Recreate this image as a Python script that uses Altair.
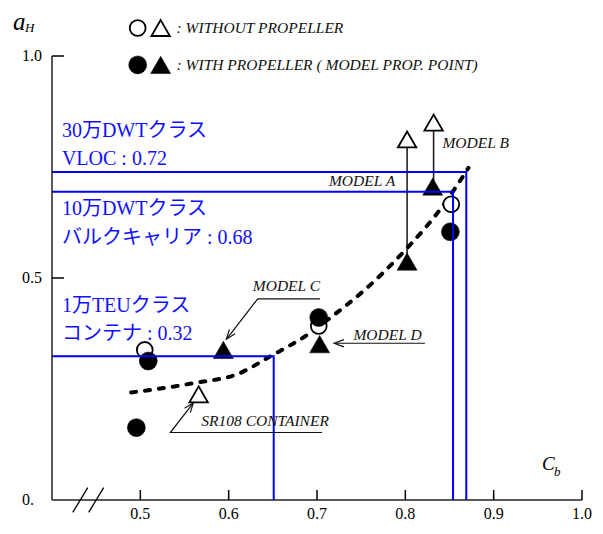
import math
import pandas as pd
import altair as alt

# ---------------- data ----------------
open_circle_x = [0.505, 0.702, 0.852]
open_circle_y = [0.338, 0.392, 0.666]
filled_circle_x = [0.509, 0.4955, 0.702, 0.851]
filled_circle_y = [0.313, 0.163, 0.411, 0.604]
open_tri_x = [0.566, 0.802, 0.832]
open_tri_y = [0.238, 0.812, 0.850]
filled_tri_x = [0.594, 0.703, 0.802, 0.831]
filled_tri_y = [0.338, 0.351, 0.537, 0.706]

# vertical connectors (MODEL A, MODEL B)
conn_x = [0.802, 0.832]
conn_y_top = [0.812, 0.850]
conn_y_bot = [0.537, 0.706]

# dashed trend curve
curve_x = [0.4896, 0.5624, 0.6105, 0.6475, 0.692, 0.7147, 0.7527, 0.8009, 0.8423, 0.8715]
curve_y = [0.242, 0.264, 0.284, 0.324, 0.376, 0.410, 0.471, 0.565, 0.662, 0.748]

# blue reference lines
blue_y = [0.739, 0.694, 0.324]
blue_x = [0.869, 0.854, 0.651]

blue_text = ["30万DWTクラス", "VLOC : 0.72", "10万DWTクラス",
             "バルクキャリア : 0.68", "1万TEUクラス", "コンテナ : 0.32"]
blue_text_y = [0.831, 0.767, 0.655, 0.591, 0.437, 0.373]
blue_text_x = [0.4112] * 6

model_text = ["MODEL  A", "MODEL  B", "MODEL  C", "MODEL  D", "SR108 CONTAINER"]
model_x = [0.7135, 0.842, 0.6273, 0.7412, 0.569]
model_y = [0.707, 0.793, 0.471, 0.360, 0.167]

arrow_C_x = [0.7035, 0.6329, 0.5974]
arrow_C_y = [0.453, 0.453, 0.362]
arrow_D_x = [0.8222, 0.7195]
arrow_D_y = [0.353, 0.353]
arrow_S_x = [0.7057, 0.534, 0.560]
arrow_S_y = [0.152, 0.152, 0.219]

legend_y = [1.063, 0.980]
legend_circle_x = [0.497, 0.497]
legend_tri_x = [0.523, 0.523]
legend_text_x = [0.541, 0.541]
legend_text = [": WITHOUT PROPELLER", ": WITH PROPELLER ( MODEL PROP. POINT)"]

x_tick_values = [0.5, 0.6, 0.7, 0.8, 0.9, 1.0]
x_tick_labels = ["0.5", "0.6", "0.7", "0.8", "0.9", "1.0"]
y_tick_values = [0.0, 0.5, 1.0]
y_tick_labels = ["0.", "0.5", "1.0"]
y_inner_ticks = [0.5, 1.0]
break_x = [0.432, 0.450]

W, H = 530, 444
XMIN, XMAX, YMIN, YMAX = 0.4, 1.0, 0.0, 1.0
SERIF = "Liberation Serif, 'Noto Sans CJK JP', serif"

xs = alt.Scale(domain=[XMIN, XMAX], nice=False, zero=False)
ys = alt.Scale(domain=[YMIN, YMAX], nice=False, zero=False)


def X(f="x"):
    return alt.X(f"{f}:Q", scale=xs, axis=None)


def Y(f="y"):
    return alt.Y(f"{f}:Q", scale=ys, axis=None)


# ---------------- axes drawn as marks ----------------
axis_df = pd.DataFrame({"x": [XMIN, XMIN], "y": [YMIN, YMIN],
                        "x2": [XMAX, XMIN], "y2": [YMIN, YMAX],
                        "c": ["x", "y"]})
axis_lines = alt.Chart(axis_df).mark_rule(strokeWidth=1.5, color="#222222").encode(
    x=X(), y=Y(), x2="x2:Q", y2="y2:Q")

xlab = alt.Chart(pd.DataFrame({"x": x_tick_values, "y": [YMIN] * 6, "t": x_tick_labels})).mark_text(
    font="Liberation Serif", fontSize=16, color="black", align="center", baseline="top", dy=6).encode(
    x=X(), y=Y(), text="t:N")
ylab = alt.Chart(pd.DataFrame({"x": [XMIN] * 3, "y": y_tick_values, "t": y_tick_labels})).mark_text(
    font="Liberation Serif", fontSize=16, color="black", align="left", baseline="middle", dx=-30).encode(
    x=X(), y=Y(), text="t:N")

# ---------------- blue lines ----------------
rows = []
for i, (bx, by) in enumerate(zip(blue_x, blue_y)):
    rows += [dict(g=i, o=0, x=XMIN, y=by), dict(g=i, o=1, x=bx, y=by), dict(g=i, o=2, x=bx, y=0.0)]
blue_df = pd.DataFrame(rows)

blue = alt.Chart(blue_df).mark_line(color="#0000ff", strokeWidth=2).encode(
    x=X(), y=Y(), detail="g:N", order="o:Q")

# ---------------- inward ticks ----------------
xt = alt.Chart(pd.DataFrame({"x": x_tick_values})).mark_rule(color="black", strokeWidth=1.5).encode(
    x=X(), y=alt.value(H), y2=alt.value(H - 10))
yt = alt.Chart(pd.DataFrame({"y": y_inner_ticks})).mark_rule(color="black", strokeWidth=1.5).encode(
    y=Y(), x=alt.value(0), x2=alt.value(12))

# axis break
brk_df = pd.DataFrame({"x": [b - 0.0085 for b in break_x], "x2": [b + 0.0085 for b in break_x],
                       "y": [-0.028] * 2, "y2": [0.028] * 2})
brk = alt.Chart(brk_df).mark_rule(color="black", strokeWidth=1.3).encode(
    x=X(), x2="x2:Q", y=Y(), y2="y2:Q")

# ---------------- connectors, curve ----------------
conn = alt.Chart(pd.DataFrame({"x": conn_x, "y": conn_y_top, "y2": conn_y_bot})).mark_rule(
    color="#222222", strokeWidth=1.6).encode(x=X(), y=Y(), y2="y2:Q")

curve = alt.Chart(pd.DataFrame({"x": curve_x, "y": curve_y, "o": range(len(curve_x))})).mark_line(
    color="black", strokeWidth=4, strokeDash=[5, 9], strokeCap="round", interpolate="monotone").encode(
    x=X(), y=Y(), order="o:Q")


# ---------------- points ----------------
def pts(xv, yv, shape, filled, size):
    df = pd.DataFrame({"x": xv, "y": yv})
    if filled:
        m = alt.Chart(df).mark_point(shape=shape, filled=True, fill="black", stroke="black",
                                     strokeWidth=0.5, size=size, opacity=1)
    else:
        m = alt.Chart(df).mark_point(shape=shape, filled=True, fill="white", stroke="black",
                                     strokeWidth=1.8, size=size, opacity=1)
    return m.encode(x=X(), y=Y())


oc = pts(open_circle_x, open_circle_y, "circle", False, 250)
fc = pts(filled_circle_x, filled_circle_y, "circle", True, 324)
ot = pts(open_tri_x, open_tri_y, "triangle-up", False, 340)
ft = pts(filled_tri_x, filled_tri_y, "triangle-up", True, 400)

loc = pts(legend_circle_x[:1], legend_y[:1], "circle", False, 250)
lfc = pts(legend_circle_x[1:], legend_y[1:], "circle", True, 324)
lot = pts(legend_tri_x[:1], legend_y[:1], "triangle-up", False, 340)
lft = pts(legend_tri_x[1:], legend_y[1:], "triangle-up", True, 400)

# ---------------- annotation lines and arrowheads ----------------
arows = []
heads = []
px_per_x = W / (XMAX - XMIN)
px_per_y = H / (YMAX - YMIN)
for g, (ax, ay) in enumerate([(arrow_C_x, arrow_C_y), (arrow_D_x, arrow_D_y), (arrow_S_x, arrow_S_y)]):
    for o, (a, b) in enumerate(zip(ax, ay)):
        arows.append(dict(g=g, o=o, x=a, y=b))
    dx = (ax[-1] - ax[-2]) * px_per_x
    dy = -(ay[-1] - ay[-2]) * px_per_y
    ang = math.degrees(math.atan2(dx, -dy)) % 360
    heads.append(dict(x=ax[-1], y=ay[-1], ang=ang))

alines = alt.Chart(pd.DataFrame(arows)).mark_line(color="#111111", strokeWidth=1.2).encode(
    x=X(), y=Y(), detail="g:N", order="o:Q")
aheads = alt.Chart(pd.DataFrame(heads)).mark_point(
    shape="M-0.45,1.2L0,0L0.45,1.2", filled=False, stroke="#111111", strokeWidth=1.2,
    size=260, opacity=1).encode(x=X(), y=Y(), angle=alt.Angle("ang:Q", scale=None))

# ---------------- texts ----------------
btxt = alt.Chart(pd.DataFrame({"x": blue_text_x, "y": blue_text_y, "t": blue_text})).mark_text(
    font=SERIF, fontSize=20, color="#1010ff", align="left", baseline="middle").encode(
    x=X(), y=Y(), text="t:N")

mtxt = alt.Chart(pd.DataFrame({"x": model_x, "y": model_y, "t": model_text})).mark_text(
    font="Liberation Serif", fontStyle="italic", fontSize=15.5, color="#111111",
    align="left", baseline="alphabetic").encode(x=X(), y=Y(), text="t:N")

ltxt = alt.Chart(pd.DataFrame({"x": legend_text_x, "y": legend_y, "t": legend_text})).mark_text(
    font="Liberation Serif", fontStyle="italic", fontSize=15.5, color="#111111",
    align="left", baseline="middle").encode(x=X(), y=Y(), text="t:N")

title_df = pd.DataFrame({
    "x": [0.363, 0.3748, 0.962, 0.972],
    "y": [1.076, 1.062, 0.081, 0.064],
    "t": ["a", "H", "C", "b"],
    "fs": [25, 13, 19, 13],
})
ttxt = alt.Chart(title_df).mark_text(
    font="Liberation Serif", fontStyle="italic", color="black", align="center", baseline="middle").encode(
    x=X(), y=Y(), text="t:N", size=alt.Size("fs:Q", scale=None))

chart = alt.layer(
    conn, curve, oc, fc, ot, ft, blue, axis_lines, xt, yt, brk, xlab, ylab, alines, aheads,
    btxt, mtxt, ltxt, loc, lfc, lot, lft, ttxt
).properties(
    width=W, height=H,
    padding={"left": 44, "top": 48, "right": 13, "bottom": 22},
    autosize=alt.AutoSizeParams(type="none"),
).configure_view(stroke=None)

chart.save("out.html", embed_options={"renderer": "svg", "actions": False})
